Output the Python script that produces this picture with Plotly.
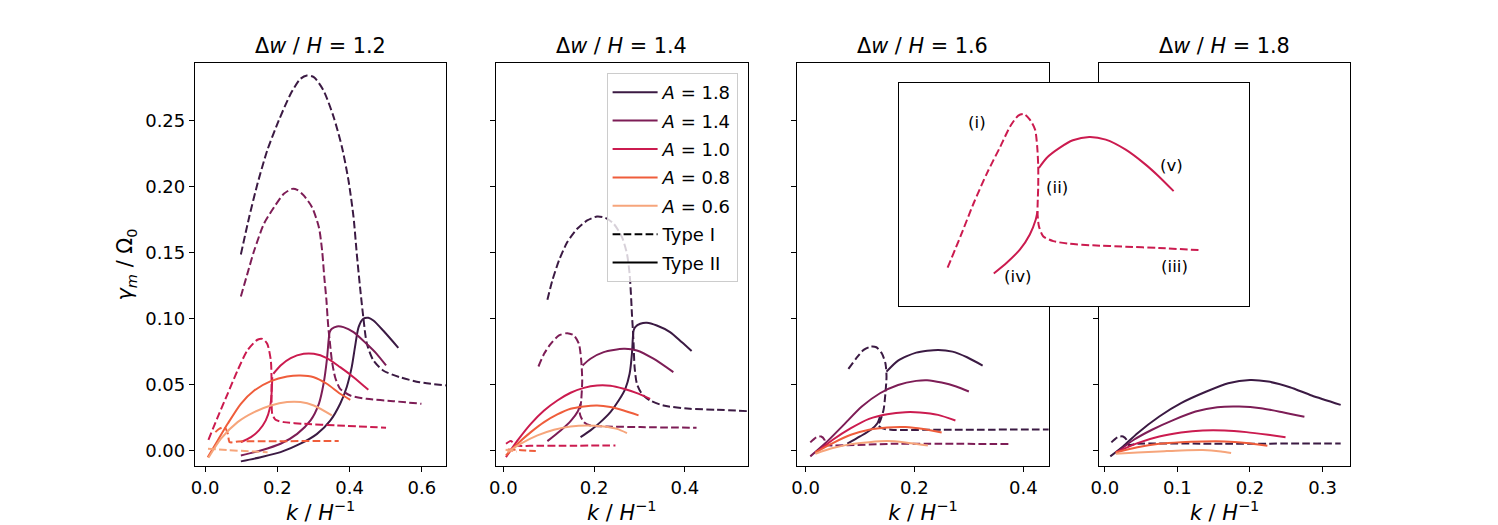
import plotly.graph_objects as go

# ---- panel 1: dw/H = 1.2 ----
K12_A18_I = [0.099, 0.122, 0.145, 0.172, 0.204, 0.237, 0.264, 0.282, 0.301, 0.328, 0.356, 0.379, 0.397, 0.411, 0.420, 0.429, 0.438, 0.448, 0.466, 0.493, 0.539, 0.594, 0.668]
G12_A18_I = [0.1487, 0.177, 0.2023, 0.2276, 0.2504, 0.2706, 0.282, 0.2845, 0.2833, 0.2731, 0.2529, 0.2301, 0.2049, 0.177, 0.1492, 0.1239, 0.1012, 0.0809, 0.0683, 0.0607, 0.0556, 0.0518, 0.0493]
K12_A18_II = [0.099, 0.154, 0.209, 0.264, 0.310, 0.347, 0.374, 0.392, 0.406, 0.415, 0.425, 0.438, 0.452, 0.466, 0.493, 0.535]
G12_A18_II = [-0.0083, -0.0051, -0.0013, 0.0051, 0.0126, 0.0228, 0.0354, 0.048, 0.0632, 0.0784, 0.0936, 0.0999, 0.1007, 0.0986, 0.091, 0.0779]

K12_A14_I = [0.099, 0.117, 0.136, 0.163, 0.191, 0.218, 0.241, 0.255, 0.273, 0.296, 0.315, 0.324, 0.330, 0.336, 0.339, 0.342, 0.345, 0.351, 0.360, 0.374, 0.402, 0.447, 0.521, 0.599]
G12_A14_I = [0.1168, 0.134, 0.1517, 0.172, 0.1846, 0.1947, 0.1985, 0.1978, 0.1935, 0.1846, 0.1694, 0.1517, 0.1315, 0.1138, 0.1012, 0.091, 0.0835, 0.0683, 0.0556, 0.0468, 0.0417, 0.0392, 0.0374, 0.0354]
K12_A14_II = [0.099, 0.154, 0.209, 0.255, 0.292, 0.315, 0.328, 0.337, 0.342, 0.345, 0.351, 0.365, 0.383, 0.411, 0.447, 0.475, 0.501]
G12_A14_II = [-0.0038, 0.0, 0.0051, 0.0126, 0.0228, 0.0354, 0.0506, 0.0683, 0.0835, 0.0898, 0.0923, 0.0941, 0.0936, 0.0898, 0.0809, 0.0733, 0.0645]

K12_A10_I = [0.0092, 0.0349, 0.0624, 0.0899, 0.117, 0.145, 0.159, 0.172, 0.182, 0.184, 0.184, 0.186, 0.195, 0.218, 0.273, 0.365, 0.501]
G12_A10_I = [0.0081, 0.0253, 0.043, 0.0607, 0.0759, 0.084, 0.0847, 0.0809, 0.0683, 0.0531, 0.0379, 0.0278, 0.0233, 0.0215, 0.0202, 0.019, 0.0172]
K12_A10_II = [0.099, 0.127, 0.149, 0.168, 0.180, 0.184, 0.186, None, 0.189, 0.209, 0.237, 0.273, 0.301, 0.337, 0.374, 0.411, 0.452]
G12_A10_II = [0.0063, 0.0101, 0.0152, 0.0228, 0.0329, 0.043, 0.0556, None, 0.0582, 0.0645, 0.0701, 0.0733, 0.0733, 0.0701, 0.0632, 0.0556, 0.046]

K12_A08_I = [0.0285, 0.040, 0.054, 0.063, 0.068, 0.091, 0.2, 0.37]
G12_A08_I = [0.0139, 0.0165, 0.0177, 0.0126, 0.0063, 0.0068, 0.007, 0.0072]
K12_A08_II = [0.0073, 0.0349, 0.0624, 0.099, 0.136, 0.182, 0.227, 0.264, 0.301, 0.337, 0.374, 0.402]
G12_A08_II = [-0.0051, 0.0076, 0.0202, 0.0354, 0.0455, 0.0526, 0.0561, 0.0569, 0.0556, 0.0506, 0.043, 0.0384]

K12_A06_I = [0.008, 0.06, 0.12, 0.173]
G12_A06_I = [0.0013, 0.0003, -0.0006, -0.0013]
K12_A06_II = [0.0092, 0.044, 0.0899, 0.136, 0.182, 0.227, 0.264, 0.301, 0.351]
G12_A06_II = [-0.0056, 0.0089, 0.0215, 0.0291, 0.0341, 0.0367, 0.0367, 0.0341, 0.0266]

# ---- panel 2: dw/H = 1.4 ----
K14_A18_I = [0.0971, 0.108, 0.1227, 0.141, 0.1628, 0.1847, 0.2066, 0.2249, 0.2432, 0.2614, 0.2724, 0.2782, 0.2811, 0.2833, 0.2855, 0.287, 0.2892, 0.2943, 0.3052, 0.3235, 0.3527, 0.4111, 0.4695, 0.5389]
G14_A18_I = [0.1143, 0.129, 0.1442, 0.1581, 0.1682, 0.1745, 0.1775, 0.1765, 0.172, 0.1619, 0.1492, 0.134, 0.1189, 0.1037, 0.091, 0.0809, 0.0632, 0.0506, 0.043, 0.0379, 0.0341, 0.0316, 0.0309, 0.0298]
K14_A18_II = [0.1701, 0.192, 0.2139, 0.2359, 0.2541, 0.2687, 0.2782, 0.2833, 0.2855, 0.287, 0.2906, 0.3016, 0.3162, 0.3381, 0.3673, 0.3928, 0.4148]
G14_A18_II = [0.0101, 0.0152, 0.0215, 0.0291, 0.0379, 0.0468, 0.0582, 0.0733, 0.086, 0.091, 0.0936, 0.0961, 0.0969, 0.0948, 0.0898, 0.0822, 0.0754]

K14_A14_I = [0.0774, 0.0898, 0.1044, 0.1227, 0.1409, 0.1555, 0.1665, 0.1716, 0.1738, 0.1716, 0.1687, 0.1774, 0.192, 0.2285, 0.3016, 0.4257]
G14_A14_I = [0.0637, 0.0733, 0.0809, 0.0873, 0.089, 0.0873, 0.0809, 0.0683, 0.0531, 0.0379, 0.0278, 0.0215, 0.019, 0.0182, 0.0177, 0.0172]
K14_A14_II = [0.0971, 0.1263, 0.1482, 0.1643, 0.1701, None, 0.1745, 0.192, 0.2212, 0.2651, 0.2943, 0.3308, 0.3746]
G14_A14_II = [0.0071, 0.0152, 0.0223, 0.0298, 0.0354, None, 0.0645, 0.0696, 0.0746, 0.0771, 0.0759, 0.0696, 0.0594]

K14_A10_I = [0.0059, 0.0169, 0.0278, 0.06, 0.15, 0.247]
G14_A10_I = [0.0051, 0.0071, 0.0038, 0.0035, 0.0036, 0.0038]
K14_A10_II = [0.0058, 0.0314, 0.0606, 0.0898, 0.119, 0.1482, 0.1774, 0.2066, 0.2359, 0.2651, 0.2943, 0.3235]
G14_A10_II = [-0.0051, 0.0076, 0.0202, 0.0303, 0.0379, 0.0438, 0.0475, 0.0493, 0.0491, 0.0468, 0.0435, 0.0392]

K14_A08_I = [0.0096, 0.04, 0.0716]
G14_A08_I = [0.0008, 0.0002, -0.0005]
K14_A08_II = [0.0058, 0.0314, 0.0606, 0.0898, 0.119, 0.1482, 0.1774, 0.2066, 0.2359, 0.2651, 0.2979]
G14_A08_II = [-0.0038, 0.0051, 0.0139, 0.0215, 0.0273, 0.0316, 0.0334, 0.0341, 0.0329, 0.0303, 0.0266]

K14_A06_I = [0.005, 0.03]
G14_A06_I = [0.0005, -0.0008]
K14_A06_II = [0.0095, 0.0387, 0.0752, 0.1117, 0.1482, 0.1847, 0.2212, 0.2505, 0.2724]
G14_A06_II = [-0.0013, 0.0051, 0.0114, 0.0157, 0.0182, 0.019, 0.0182, 0.0164, 0.0132]

# ---- panel 3: dw/H = 1.6 ----
K16_A18_I = [0.0787, 0.0933, 0.1067, 0.12, 0.13, 0.14, 0.1467, 0.1487, 0.1467, 0.1433, 0.1367, 0.1333, 0.14, 0.1567, 0.2367, 0.447]
G16_A18_I = [0.0619, 0.07, 0.0763, 0.0788, 0.0783, 0.0737, 0.0662, 0.0561, 0.0434, 0.0308, 0.022, 0.0194, 0.0169, 0.0157, 0.0157, 0.0159]
K16_A18_II = [0.0767, 0.1, 0.12, 0.132, 0.1367, None, 0.1487, 0.17, 0.2033, 0.2433, 0.27, 0.2967, 0.3253]
G16_A18_II = [0.0051, 0.0106, 0.0157, 0.0207, 0.0258, None, 0.0598, 0.0682, 0.0742, 0.0763, 0.075, 0.0707, 0.0644]

K16_A14_I = [0.0087, 0.02, 0.0287, 0.0347, 0.0367, 0.05, 0.17, 0.3733]
G16_A14_I = [0.0061, 0.0101, 0.0106, 0.0081, 0.0043, 0.0038, 0.0051, 0.0048]
K16_A14_II = [0.0087, 0.0367, 0.07, 0.1033, 0.1367, 0.17, 0.2033, 0.2233, 0.25, 0.2767, 0.3]
G16_A14_II = [-0.0045, 0.0056, 0.0194, 0.0333, 0.0434, 0.0497, 0.0528, 0.0533, 0.0515, 0.0485, 0.0447]

K16_A10_II = [0.018, 0.05, 0.0833, 0.1167, 0.15, 0.1833, 0.21, 0.2433, 0.2753]
G16_A10_II = [-0.002, 0.0081, 0.0169, 0.024, 0.0275, 0.029, 0.0288, 0.027, 0.0227]
K16_A08_II = [0.018, 0.05, 0.0833, 0.1167, 0.15, 0.1833, 0.2167, 0.25]
G16_A08_II = [-0.0015, 0.0056, 0.0119, 0.0157, 0.0174, 0.0177, 0.0162, 0.0136]
K16_A06_II = [0.018, 0.05, 0.0833, 0.1167, 0.15, 0.1833, 0.2247]
G16_A06_II = [-0.0025, 0.0018, 0.0048, 0.0063, 0.0071, 0.0061, 0.0038]

# ---- panel 4: dw/H = 1.8 ----
K18_A18_I = [0.009, 0.0175, 0.025, 0.03, 0.0325, 0.045, 0.165, 0.325]
G18_A18_I = [0.0061, 0.0101, 0.0106, 0.0081, 0.0043, 0.0051, 0.0051, 0.0053]
K18_A18_II = [0.0075, 0.025, 0.045, 0.075, 0.105, 0.14, 0.17, 0.2, 0.225, 0.255, 0.285, 0.325]
G18_A18_II = [-0.0045, 0.003, 0.0131, 0.0258, 0.0359, 0.0447, 0.051, 0.0535, 0.0523, 0.048, 0.0417, 0.0346]
K18_A14_II = [0.015, 0.04, 0.065, 0.095, 0.125, 0.155, 0.185, 0.215, 0.245, 0.275]
G18_A14_II = [-0.002, 0.0081, 0.0157, 0.0232, 0.0295, 0.0328, 0.0333, 0.0321, 0.029, 0.0255]
K18_A10_II = [0.015, 0.045, 0.075, 0.105, 0.135, 0.165, 0.195, 0.225, 0.249]
G18_A10_II = [-0.0015, 0.0056, 0.0106, 0.0136, 0.0152, 0.0152, 0.0139, 0.0119, 0.0101]
K18_A08_II = [0.015, 0.045, 0.075, 0.105, 0.135, 0.165, 0.195, 0.224]
G18_A08_II = [-0.0015, 0.0025, 0.0051, 0.0063, 0.0068, 0.0068, 0.0056, 0.0035]
K18_A06_II = [0.015, 0.045, 0.075, 0.105, 0.135, 0.16, 0.174]
G18_A06_II = [-0.0025, -0.0015, -0.0008, 0.0, 0.0003, -0.0008, -0.002]

# ---- inset: schematic of the five branches (arbitrary units) ----
INSET_I_X = [0.140, 0.177, 0.215, 0.253, 0.291, 0.319, 0.342, 0.358, 0.375, 0.390, 0.396, 0.399, 0.399, 0.397, 0.401, 0.413, 0.442, 0.489, 0.555, 0.649, 0.743, 0.857]
INSET_I_Y = [0.172, 0.313, 0.463, 0.597, 0.716, 0.806, 0.854, 0.861, 0.836, 0.791, 0.716, 0.627, 0.537, 0.418, 0.358, 0.313, 0.291, 0.279, 0.272, 0.266, 0.260, 0.251]
INSET_IV_X = [0.272, 0.309, 0.347, 0.375, 0.392, 0.397]
INSET_IV_Y = [0.146, 0.194, 0.254, 0.321, 0.388, 0.425]
INSET_V_X = [0.401, 0.423, 0.460, 0.498, 0.545, 0.592, 0.649, 0.706, 0.743, 0.786]
INSET_V_Y = [0.619, 0.664, 0.709, 0.743, 0.758, 0.746, 0.701, 0.634, 0.582, 0.515]
INSET_LABELS = ["(i)", "(ii)", "(iii)", "(iv)", "(v)"]
INSET_LABEL_X = [0.225, 0.454, 0.789, 0.340, 0.781]
INSET_LABEL_Y = [0.821, 0.530, 0.179, 0.131, 0.630]

AMPS = ["1.8", "1.4", "1.0", "0.8", "0.6"]
COLORS = ["#3b1a43", "#7d1d56", "#cb1b4f", "#ef5d3b", "#f6a57b"]
DW = ["1.2", "1.4", "1.6", "1.8"]

FONT = "DejaVu Sans"
DASH = "7.7px,3.3px"
W, H = 1498, 525
TICK_SIZE = 18
LABEL_SIZE = 20.8

XDOM = [(187 / W, 440 / W), (490 / W, 743 / W), (793 / W, 1046 / W), (1097 / W, 1349 / W)]
YDOM = (1 - 466 / H, 1 - 63 / H)
XRANGES = [(-0.0283, 0.668), (-0.016, 0.538), (-0.0153, 0.4467), (-0.0075, 0.3377)]
XDTICK = [0.2, 0.2, 0.2, 0.1]
YRANGE = (-0.0118, 0.294)

# (panel, amp index, type, k, gamma)
curves = [
    (0, 0, "I", K12_A18_I, G12_A18_I), (0, 0, "II", K12_A18_II, G12_A18_II),
    (0, 1, "I", K12_A14_I, G12_A14_I), (0, 1, "II", K12_A14_II, G12_A14_II),
    (0, 2, "I", K12_A10_I, G12_A10_I), (0, 2, "II", K12_A10_II, G12_A10_II),
    (0, 3, "I", K12_A08_I, G12_A08_I), (0, 3, "II", K12_A08_II, G12_A08_II),
    (0, 4, "I", K12_A06_I, G12_A06_I), (0, 4, "II", K12_A06_II, G12_A06_II),
    (1, 0, "I", K14_A18_I, G14_A18_I), (1, 0, "II", K14_A18_II, G14_A18_II),
    (1, 1, "I", K14_A14_I, G14_A14_I), (1, 1, "II", K14_A14_II, G14_A14_II),
    (1, 2, "I", K14_A10_I, G14_A10_I), (1, 2, "II", K14_A10_II, G14_A10_II),
    (1, 3, "I", K14_A08_I, G14_A08_I), (1, 3, "II", K14_A08_II, G14_A08_II),
    (1, 4, "I", K14_A06_I, G14_A06_I), (1, 4, "II", K14_A06_II, G14_A06_II),
    (2, 0, "I", K16_A18_I, G16_A18_I), (2, 0, "II", K16_A18_II, G16_A18_II),
    (2, 1, "I", K16_A14_I, G16_A14_I), (2, 1, "II", K16_A14_II, G16_A14_II),
    (2, 2, "II", K16_A10_II, G16_A10_II),
    (2, 3, "II", K16_A08_II, G16_A08_II),
    (2, 4, "II", K16_A06_II, G16_A06_II),
    (3, 0, "I", K18_A18_I, G18_A18_I), (3, 0, "II", K18_A18_II, G18_A18_II),
    (3, 1, "II", K18_A14_II, G18_A14_II),
    (3, 2, "II", K18_A10_II, G18_A10_II),
    (3, 3, "II", K18_A08_II, G18_A08_II),
    (3, 4, "II", K18_A06_II, G18_A06_II),
]


def ax_suffix(i):
    return "" if i == 0 else str(i + 1)


fig = go.Figure()

for p, a, typ, k, g in curves:
    s = ax_suffix(p)
    fig.add_trace(go.Scatter(
        x=k, y=g, mode="lines", showlegend=False, hoverinfo="skip",
        line=dict(color=COLORS[a], width=2, dash=DASH if typ == "I" else "solid",
                  shape="spline", smoothing=0.7),
        xaxis="x" + s, yaxis="y" + s,
    ))

# inset
for xs, ys, dash in [(INSET_I_X, INSET_I_Y, DASH), (INSET_IV_X, INSET_IV_Y, "solid"),
                     (INSET_V_X, INSET_V_Y, "solid")]:
    fig.add_trace(go.Scatter(
        x=xs, y=ys, mode="lines", showlegend=False, hoverinfo="skip",
        line=dict(color=COLORS[2], width=2, dash=dash, shape="spline", smoothing=0.7),
        xaxis="x5", yaxis="y5",
    ))

# legend entries
for i, (amp, c) in enumerate(zip(AMPS, COLORS)):
    fig.add_trace(go.Scatter(
        x=[None], y=[None], mode="lines", name=f"<i>A</i> = {amp}",
        legendgroup=f"g{i}", line=dict(color=c, width=2), xaxis="x2", yaxis="y2",
    ))
fig.add_trace(go.Scatter(x=[None], y=[None], mode="lines", name="Type I", legendgroup="g5",
                         line=dict(color="black", width=2, dash=DASH), xaxis="x2", yaxis="y2"))
fig.add_trace(go.Scatter(x=[None], y=[None], mode="lines", name="Type II", legendgroup="g6",
                         line=dict(color="black", width=2), xaxis="x2", yaxis="y2"))

layout = dict(
    width=W, height=H,
    margin=dict(l=0, r=0, t=0, b=0),
    paper_bgcolor="white", plot_bgcolor="white",
    font=dict(family=FONT, size=TICK_SIZE, color="black"),
    legend=dict(
        x=733 / W, xanchor="right", y=1 - 73 / H, yanchor="top",
        bgcolor="rgba(255,255,255,0.8)", bordercolor="#cccccc", borderwidth=1,
        font=dict(family=FONT, size=TICK_SIZE), tracegroupgap=2, traceorder="grouped",
        itemwidth=45, entrywidth=80,
    ),
    annotations=[],
)

axis_common = dict(
    showline=True, mirror=True, linecolor="black", linewidth=1,
    showgrid=False, zeroline=False, ticks="outside", ticklen=5, tickwidth=1,
    tickcolor="black", tickfont=dict(family=FONT, size=TICK_SIZE, color="black"),
)

for i in range(4):
    s = ax_suffix(i)
    layout["xaxis" + s] = dict(
        axis_common, domain=list(XDOM[i]), range=list(XRANGES[i]), anchor="y" + s,
        tick0=0, dtick=XDTICK[i], tickformat=".1f",
        title=dict(text="<i>k</i> / <i>H</i><sup>−1</sup>", standoff=4,
                   font=dict(family=FONT, size=LABEL_SIZE)),
    )
    ycfg = dict(
        axis_common, domain=list(YDOM), range=list(YRANGE), anchor="x" + s,
        tick0=0, dtick=0.05, tickformat=".2f", showticklabels=(i == 0),
    )
    if i == 0:
        ycfg["title"] = dict(text="<i>γ<sub>m</sub></i> / Ω<sub>0</sub>", standoff=6,
                             font=dict(family=FONT, size=LABEL_SIZE))
    layout["yaxis" + s] = ycfg
    layout["annotations"].append(dict(
        text=f"Δ<i>w</i> / <i>H</i> = {DW[i]}", xref="paper", yref="paper",
        x=(XDOM[i][0] + XDOM[i][1]) / 2, y=YDOM[1], xanchor="center", yanchor="bottom",
        yshift=3, showarrow=False, font=dict(family=FONT, size=LABEL_SIZE, color="black"),
    ))

layout["xaxis5"] = dict(
    domain=[895 / W, 1247 / W], range=[0, 1], anchor="y5", showline=True, mirror=True,
    linecolor="black", linewidth=1, showgrid=False, zeroline=False,
    showticklabels=False, ticks="",
)
layout["yaxis5"] = dict(
    domain=[1 - 306 / H, 1 - 83 / H], range=[0, 1], anchor="x5", showline=True, mirror=True,
    linecolor="black", linewidth=1, showgrid=False, zeroline=False,
    showticklabels=False, ticks="",
)

for t, lx, ly in zip(INSET_LABELS, INSET_LABEL_X, INSET_LABEL_Y):
    layout["annotations"].append(dict(
        text=t, xref="x5", yref="y5", x=lx, y=ly, showarrow=False,
        font=dict(family=FONT, size=16.67, color="black"),
    ))

fig.update_layout(layout)
fig.write_html("out.html", config={"displayModeBar": False},
               post_script="document.body.style.margin='0';")
